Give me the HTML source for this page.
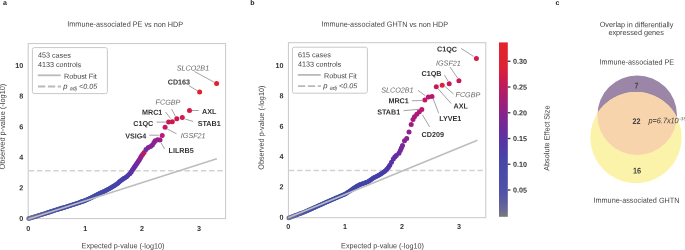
<!DOCTYPE html>
<html><head><meta charset="utf-8"><style>
html,body{margin:0;padding:0;background:#fff;width:685px;height:250px;overflow:hidden;}
svg{display:block;will-change:transform;}
text{font-family:"Liberation Sans", sans-serif;text-rendering:geometricPrecision;}
</style></head><body>
<svg width="685" height="250" viewBox="0 0 685 250" font-family='"Liberation Sans", sans-serif'><rect width="685" height="250" fill="#fff"/><text x="3" y="4.9" font-size="7" font-weight="bold" font-style="normal" fill="#222" text-anchor="start"  transform="rotate(0.2 3 4.9)">a</text><text x="250.3" y="4.9" font-size="7" font-weight="bold" font-style="normal" fill="#222" text-anchor="start"  transform="rotate(0.2 250.3 4.9)">b</text><text x="555.6" y="4.9" font-size="7" font-weight="bold" font-style="normal" fill="#222" text-anchor="start"  transform="rotate(0.2 555.6 4.9)">c</text><rect x="28.2" y="43.6" width="197.4" height="175.0" fill="none" stroke="#c8c8c8" stroke-width="1"/><text x="67.3" y="26.6" font-size="7.6" fill="#444" text-anchor="start" textLength="115.89999999999999" lengthAdjust="spacingAndGlyphs" transform="rotate(0.2 67.3 26.6)">Immune-associated PE vs non HDP</text><text x="23.2" y="220.9" font-size="7.2" font-weight="bold" font-style="normal" fill="#333" text-anchor="end"  transform="rotate(0.2 23.2 220.9)">0</text><text x="23.2" y="190.32000000000002" font-size="7.2" font-weight="bold" font-style="normal" fill="#333" text-anchor="end"  transform="rotate(0.2 23.2 190.32000000000002)">2</text><text x="23.2" y="159.74" font-size="7.2" font-weight="bold" font-style="normal" fill="#333" text-anchor="end"  transform="rotate(0.2 23.2 159.74)">4</text><text x="23.2" y="129.16000000000003" font-size="7.2" font-weight="bold" font-style="normal" fill="#333" text-anchor="end"  transform="rotate(0.2 23.2 129.16000000000003)">6</text><text x="23.2" y="98.58000000000001" font-size="7.2" font-weight="bold" font-style="normal" fill="#333" text-anchor="end"  transform="rotate(0.2 23.2 98.58000000000001)">8</text><text x="23.2" y="68.00000000000003" font-size="7.2" font-weight="bold" font-style="normal" fill="#333" text-anchor="end"  transform="rotate(0.2 23.2 68.00000000000003)">10</text><line x1="28.7" y1="170.7" x2="225.1" y2="170.7" stroke="#d2d2d2" stroke-width="1.4" stroke-dasharray="5.4 2.8"/><circle cx="28.60" cy="218.60" r="2.3" fill="#71749d"/><circle cx="29.44" cy="218.35" r="2.3" fill="#6f729d"/><circle cx="30.28" cy="218.10" r="2.3" fill="#6e719e"/><circle cx="31.12" cy="217.85" r="2.3" fill="#6c6f9e"/><circle cx="31.96" cy="217.60" r="2.3" fill="#6a6e9f"/><circle cx="32.80" cy="217.35" r="2.3" fill="#686c9f"/><circle cx="33.64" cy="217.10" r="2.3" fill="#676ba0"/><circle cx="34.48" cy="216.85" r="2.3" fill="#6569a0"/><circle cx="35.32" cy="216.60" r="2.3" fill="#6368a1"/><circle cx="36.16" cy="216.35" r="2.3" fill="#6166a1"/><circle cx="37.00" cy="216.10" r="2.3" fill="#6065a2"/><circle cx="37.82" cy="215.84" r="2.3" fill="#5e63a2"/><circle cx="38.64" cy="215.57" r="2.3" fill="#5c61a3"/><circle cx="39.45" cy="215.31" r="2.3" fill="#5a60a3"/><circle cx="40.27" cy="215.05" r="2.3" fill="#585ea4"/><circle cx="41.09" cy="214.78" r="2.3" fill="#575da4"/><circle cx="41.91" cy="214.52" r="2.3" fill="#565da4"/><circle cx="42.73" cy="214.25" r="2.3" fill="#555ca5"/><circle cx="43.55" cy="213.99" r="2.3" fill="#545ca5"/><circle cx="44.36" cy="213.73" r="2.3" fill="#535ba5"/><circle cx="45.18" cy="213.46" r="2.3" fill="#525aa5"/><circle cx="46.00" cy="213.20" r="2.3" fill="#525aa5"/><circle cx="46.82" cy="212.94" r="2.3" fill="#5159a6"/><circle cx="47.64" cy="212.67" r="2.3" fill="#5058a6"/><circle cx="48.45" cy="212.41" r="2.3" fill="#4f58a6"/><circle cx="49.27" cy="212.15" r="2.3" fill="#4e57a6"/><circle cx="50.09" cy="211.88" r="2.3" fill="#4d57a6"/><circle cx="50.91" cy="211.62" r="2.3" fill="#4c56a7"/><circle cx="51.73" cy="211.35" r="2.3" fill="#4b55a7"/><circle cx="52.55" cy="211.09" r="2.3" fill="#4a55a7"/><circle cx="53.36" cy="210.83" r="2.3" fill="#4954a7"/><circle cx="54.18" cy="210.56" r="2.3" fill="#4853a8"/><circle cx="55.00" cy="210.30" r="2.3" fill="#4753a8"/><circle cx="55.77" cy="210.06" r="2.3" fill="#4652a8"/><circle cx="56.54" cy="209.82" r="2.3" fill="#4652a8"/><circle cx="57.31" cy="209.58" r="2.3" fill="#4652a8"/><circle cx="58.08" cy="209.35" r="2.3" fill="#4652a8"/><circle cx="58.85" cy="209.11" r="2.3" fill="#4652a8"/><circle cx="59.62" cy="208.87" r="2.3" fill="#4652a8"/><circle cx="60.38" cy="208.63" r="2.3" fill="#4651a8"/><circle cx="61.15" cy="208.39" r="2.3" fill="#4651a8"/><circle cx="61.92" cy="208.15" r="2.3" fill="#4651a8"/><circle cx="62.69" cy="207.92" r="2.3" fill="#4551a8"/><circle cx="63.46" cy="207.68" r="2.3" fill="#4551a8"/><circle cx="64.23" cy="207.44" r="2.3" fill="#4551a8"/><circle cx="65.00" cy="207.20" r="2.3" fill="#4551a8"/><circle cx="65.77" cy="206.95" r="2.3" fill="#4551a8"/><circle cx="66.54" cy="206.71" r="2.3" fill="#4551a8"/><circle cx="67.31" cy="206.46" r="2.3" fill="#4551a8"/><circle cx="68.08" cy="206.22" r="2.3" fill="#4550a8"/><circle cx="68.85" cy="205.97" r="2.3" fill="#4550a8"/><circle cx="69.62" cy="205.72" r="2.3" fill="#4550a8"/><circle cx="70.38" cy="205.48" r="2.3" fill="#4550a8"/><circle cx="71.15" cy="205.23" r="2.3" fill="#4550a8"/><circle cx="71.92" cy="204.98" r="2.3" fill="#4550a8"/><circle cx="72.69" cy="204.74" r="2.3" fill="#4550a8"/><circle cx="73.46" cy="204.49" r="2.3" fill="#4550a8"/><circle cx="74.23" cy="204.25" r="2.3" fill="#4450a8"/><circle cx="75.00" cy="204.00" r="2.3" fill="#4450a8"/><circle cx="75.77" cy="203.74" r="2.3" fill="#444fa8"/><circle cx="76.54" cy="203.48" r="2.3" fill="#444fa8"/><circle cx="77.31" cy="203.22" r="2.3" fill="#444fa8"/><circle cx="78.08" cy="202.95" r="2.3" fill="#444fa8"/><circle cx="78.85" cy="202.69" r="2.3" fill="#444fa8"/><circle cx="79.62" cy="202.43" r="2.3" fill="#444fa8"/><circle cx="80.38" cy="202.17" r="2.3" fill="#444fa8"/><circle cx="81.15" cy="201.91" r="2.3" fill="#444fa8"/><circle cx="81.92" cy="201.65" r="2.3" fill="#444fa8"/><circle cx="82.69" cy="201.38" r="2.3" fill="#444fa8"/><circle cx="83.46" cy="201.12" r="2.3" fill="#444ea8"/><circle cx="84.23" cy="200.86" r="2.3" fill="#444ea8"/><circle cx="85.00" cy="200.60" r="2.3" fill="#434ea8"/><circle cx="85.78" cy="200.24" r="2.3" fill="#434ea8"/><circle cx="86.56" cy="199.89" r="2.3" fill="#434ea8"/><circle cx="87.33" cy="199.53" r="2.3" fill="#434ea8"/><circle cx="88.11" cy="199.18" r="2.3" fill="#434ea8"/><circle cx="88.89" cy="198.82" r="2.3" fill="#434ea8"/><circle cx="89.67" cy="198.47" r="2.3" fill="#434da8"/><circle cx="90.44" cy="198.11" r="2.3" fill="#434da8"/><circle cx="91.22" cy="197.76" r="2.3" fill="#434da8"/><circle cx="92.00" cy="197.40" r="2.3" fill="#434da8"/><circle cx="92.73" cy="197.03" r="2.3" fill="#434da8"/><circle cx="93.45" cy="196.65" r="2.3" fill="#424da8"/><circle cx="94.18" cy="196.28" r="2.3" fill="#424da8"/><circle cx="94.91" cy="195.91" r="2.3" fill="#424ca8"/><circle cx="95.64" cy="195.54" r="2.3" fill="#424ca8"/><circle cx="96.36" cy="195.16" r="2.3" fill="#424ca8"/><circle cx="97.09" cy="194.79" r="2.3" fill="#424ca8"/><circle cx="97.82" cy="194.42" r="2.3" fill="#424ca8"/><circle cx="98.55" cy="194.05" r="2.3" fill="#424ba8"/><circle cx="99.27" cy="193.67" r="2.3" fill="#424ba8"/><circle cx="100.00" cy="193.30" r="2.3" fill="#424ba8"/><circle cx="100.83" cy="192.92" r="2.3" fill="#424ba8"/><circle cx="101.67" cy="192.53" r="2.3" fill="#434aa9"/><circle cx="102.50" cy="192.15" r="2.3" fill="#434aa9"/><circle cx="103.33" cy="191.77" r="2.3" fill="#434aa9"/><circle cx="104.17" cy="191.38" r="2.3" fill="#434aa9"/><circle cx="105.00" cy="191.00" r="2.3" fill="#4349a9"/><circle cx="105.71" cy="190.61" r="2.3" fill="#4349a9"/><circle cx="106.43" cy="190.23" r="2.3" fill="#4349a9"/><circle cx="107.14" cy="189.84" r="2.3" fill="#4349a9"/><circle cx="107.86" cy="189.46" r="2.3" fill="#4348a9"/><circle cx="108.57" cy="189.07" r="2.3" fill="#4348a9"/><circle cx="109.29" cy="188.69" r="2.3" fill="#4348a9"/><circle cx="110.00" cy="188.30" r="2.3" fill="#4348a9"/><circle cx="110.71" cy="187.87" r="2.3" fill="#4447aa"/><circle cx="111.43" cy="187.44" r="2.3" fill="#4447aa"/><circle cx="112.14" cy="187.01" r="2.3" fill="#4447aa"/><circle cx="112.86" cy="186.59" r="2.3" fill="#4446aa"/><circle cx="113.57" cy="186.16" r="2.3" fill="#4446aa"/><circle cx="114.29" cy="185.73" r="2.3" fill="#4446aa"/><circle cx="115.00" cy="185.30" r="2.3" fill="#4446aa"/><circle cx="115.75" cy="184.80" r="2.3" fill="#4545aa"/><circle cx="116.50" cy="184.30" r="2.3" fill="#4545aa"/><circle cx="117.25" cy="183.80" r="2.3" fill="#4545aa"/><circle cx="118.00" cy="183.30" r="2.3" fill="#4644aa"/><circle cx="118.67" cy="182.60" r="2.3" fill="#4644aa"/><circle cx="119.33" cy="181.90" r="2.3" fill="#4743aa"/><circle cx="120.00" cy="181.20" r="2.3" fill="#4743aa"/><circle cx="120.67" cy="180.73" r="2.3" fill="#4842aa"/><circle cx="121.33" cy="180.27" r="2.3" fill="#4842aa"/><circle cx="122.00" cy="179.80" r="2.3" fill="#4842aa"/><circle cx="122.67" cy="179.33" r="2.3" fill="#4941aa"/><circle cx="123.33" cy="178.87" r="2.3" fill="#4940aa"/><circle cx="124.00" cy="178.40" r="2.3" fill="#4a3fa9"/><circle cx="124.75" cy="177.93" r="2.3" fill="#4a3fa9"/><circle cx="125.50" cy="177.45" r="2.3" fill="#4b3ea9"/><circle cx="126.25" cy="176.97" r="2.3" fill="#4c3da9"/><circle cx="127.00" cy="176.50" r="2.3" fill="#4c3ca9"/><circle cx="127.60" cy="175.85" r="2.3" fill="#4d3ba8"/><circle cx="128.20" cy="175.20" r="2.3" fill="#4e3aa8"/><circle cx="129.80" cy="173.80" r="2.5" fill="#5238a8"/><circle cx="131.20" cy="171.90" r="2.5" fill="#5934a7"/><circle cx="132.40" cy="170.00" r="2.5" fill="#6030a6"/><circle cx="133.60" cy="168.30" r="2.5" fill="#632ea5"/><circle cx="134.60" cy="166.80" r="2.5" fill="#662ca5"/><circle cx="135.50" cy="165.50" r="2.5" fill="#692ba4"/><circle cx="136.50" cy="164.00" r="2.5" fill="#6e29a2"/><circle cx="137.50" cy="162.60" r="2.5" fill="#75289e"/><circle cx="138.50" cy="161.10" r="2.5" fill="#7b279b"/><circle cx="139.40" cy="159.70" r="2.5" fill="#822697"/><circle cx="140.40" cy="158.00" r="2.5" fill="#8d2390"/><circle cx="141.30" cy="156.30" r="2.5" fill="#982089"/><circle cx="142.60" cy="154.60" r="2.5" fill="#96218b"/><circle cx="144.10" cy="152.40" r="2.5" fill="#c41858"/><circle cx="146.00" cy="149.60" r="2.5" fill="#6a30a0"/><circle cx="148.30" cy="147.60" r="2.5" fill="#7e2698"/><circle cx="150.50" cy="146.40" r="2.5" fill="#8a2494"/><circle cx="152.40" cy="145.00" r="2.5" fill="#7e2698"/><circle cx="154.00" cy="142.60" r="2.5" fill="#8e2290"/><circle cx="155.20" cy="140.80" r="2.5" fill="#8a2494"/><circle cx="157.60" cy="139.80" r="2.5" fill="#962088"/><circle cx="160.00" cy="140.00" r="2.5" fill="#9a1e86"/><circle cx="162.20" cy="135.60" r="2.5" fill="#c0187a"/><circle cx="165.10" cy="127.30" r="2.5" fill="#c41868"/><circle cx="168.60" cy="122.10" r="2.5" fill="#cc1850"/><circle cx="172.30" cy="121.80" r="2.5" fill="#cc1850"/><circle cx="176.80" cy="118.70" r="2.5" fill="#d01850"/><circle cx="182.30" cy="117.50" r="2.5" fill="#d41850"/><circle cx="189.50" cy="110.50" r="2.5" fill="#d81848"/><circle cx="199.60" cy="92.00" r="2.5" fill="#e4202a"/><circle cx="216.60" cy="83.60" r="2.5" fill="#e4202a"/><line x1="28.3" y1="219.1" x2="216.8" y2="158.7" stroke="#bdbdbd" stroke-width="1.6" /><line x1="194.5" y1="71.5" x2="214.5" y2="82.4" stroke="#999999" stroke-width="0.9" /><text x="176.8" y="70.4" font-size="7.2" font-weight="normal" font-style="italic" fill="#666" text-anchor="start"  transform="rotate(0.2 176.8 70.4)">SLCO2B1</text><line x1="188.8" y1="85.6" x2="197.7" y2="91" stroke="#999999" stroke-width="0.9" /><text x="167.7" y="84.4" font-size="7.2" font-weight="bold" font-style="normal" fill="#333" text-anchor="start"  transform="rotate(0.2 167.7 84.4)">CD163</text><line x1="171.6" y1="109" x2="175.6" y2="116.6" stroke="#999999" stroke-width="0.9" /><text x="155.6" y="104.6" font-size="7.2" font-weight="normal" font-style="italic" fill="#666" text-anchor="start"  transform="rotate(0.2 155.6 104.6)">FCGBP</text><line x1="191.8" y1="110.5" x2="198.8" y2="110.5" stroke="#999999" stroke-width="0.9" /><text x="202" y="113.9" font-size="7.2" font-weight="bold" font-style="normal" fill="#333" text-anchor="start"  transform="rotate(0.2 202 113.9)">AXL</text><line x1="165.5" y1="111.9" x2="170.6" y2="118.5" stroke="#999999" stroke-width="0.9" /><text x="142" y="114.7" font-size="7.2" font-weight="bold" font-style="normal" fill="#333" text-anchor="start"  transform="rotate(0.2 142 114.7)">MRC1</text><line x1="185.2" y1="119" x2="193.2" y2="121.5" stroke="#999999" stroke-width="0.9" /><text x="197.7" y="125.9" font-size="7.2" font-weight="bold" font-style="normal" fill="#333" text-anchor="start"  transform="rotate(0.2 197.7 125.9)">STAB1</text><line x1="156.7" y1="122.1" x2="166.4" y2="122.1" stroke="#999999" stroke-width="0.9" /><text x="133.2" y="125.9" font-size="7.2" font-weight="bold" font-style="normal" fill="#333" text-anchor="start"  transform="rotate(0.2 133.2 125.9)">C1QC</text><line x1="167.2" y1="129" x2="176.5" y2="133.8" stroke="#999999" stroke-width="0.9" /><text x="180.8" y="138.1" font-size="7.2" font-weight="normal" font-style="italic" fill="#666" text-anchor="start"  transform="rotate(0.2 180.8 138.1)">IGSF21</text><line x1="149.2" y1="135.2" x2="158.8" y2="135.2" stroke="#999999" stroke-width="0.9" /><text x="125.2" y="138.4" font-size="7.2" font-weight="bold" font-style="normal" fill="#333" text-anchor="start"  transform="rotate(0.2 125.2 138.4)">VSIG4</text><line x1="161.2" y1="143" x2="164.6" y2="149" stroke="#999999" stroke-width="0.9" /><text x="168.5" y="153.0" font-size="7.2" font-weight="bold" font-style="normal" fill="#333" text-anchor="start"  transform="rotate(0.2 168.5 153.0)">LILRB5</text><rect x="32.4" y="47.6" width="75" height="46" rx="2" ry="2" fill="#fff" stroke="#c8c8c8" stroke-width="1"/><text x="38.0" y="57.6" font-size="7.2" font-weight="normal" font-style="normal" fill="#444" text-anchor="start"  transform="rotate(0.2 38.0 57.6)">453 cases</text><text x="38.0" y="67.0" font-size="7.2" font-weight="normal" font-style="normal" fill="#444" text-anchor="start"  transform="rotate(0.2 38.0 67.0)">4133 controls</text><line x1="37.8" y1="75.3" x2="60.7" y2="75.3" stroke="#bababa" stroke-width="1.8" /><text x="64.0" y="78.7" font-size="7.2" font-weight="normal" font-style="normal" fill="#444" text-anchor="start"  transform="rotate(0.2 64.0 78.7)">Robust Fit</text><line x1="38.0" y1="86.5" x2="60.9" y2="86.5" stroke="#bababa" stroke-width="1.8" stroke-dasharray="7.3 2.6"/><text x="63.2" y="88.7" font-size="7.6" font-style="italic" fill="#444" transform="rotate(0.2 63.2 88.7)">p</text><text x="69.8" y="90.2" font-size="5.4" font-style="italic" fill="#444" transform="rotate(0.2 69.8 90.2)">adj</text><text x="79.0" y="88.7" font-size="7.2" font-style="italic" fill="#444" transform="rotate(0.2 79.0 88.7)">&lt;0.05</text><text x="28.3" y="230.9" font-size="7.2" font-weight="bold" font-style="normal" fill="#333" text-anchor="middle"  transform="rotate(0.2 28.3 230.9)">0</text><text x="85.2" y="230.9" font-size="7.2" font-weight="bold" font-style="normal" fill="#333" text-anchor="middle"  transform="rotate(0.2 85.2 230.9)">1</text><text x="142.1" y="230.9" font-size="7.2" font-weight="bold" font-style="normal" fill="#333" text-anchor="middle"  transform="rotate(0.2 142.1 230.9)">2</text><text x="199.0" y="230.9" font-size="7.2" font-weight="bold" font-style="normal" fill="#333" text-anchor="middle"  transform="rotate(0.2 199.0 230.9)">3</text><text x="81.6" y="248.2" font-size="7.6" fill="#444" text-anchor="start" textLength="82.8" lengthAdjust="spacingAndGlyphs" transform="rotate(0.2 81.6 248.2)">Expected p-value (-log10)</text><text x="0" y="0" font-size="7.6" fill="#444" text-anchor="middle" textLength="85.8" lengthAdjust="spacingAndGlyphs" transform="translate(4.9,126.6) rotate(-89.8)">Observed p-value (-log10)</text><rect x="288.4" y="42.7" width="197.40000000000003" height="175.0" fill="none" stroke="#c8c8c8" stroke-width="1"/><text x="321.5" y="26.6" font-size="7.6" fill="#444" text-anchor="start" textLength="126.6" lengthAdjust="spacingAndGlyphs" transform="rotate(0.2 321.5 26.6)">Immune-associated GHTN vs non HDP</text><text x="283.4" y="219.7" font-size="7.2" font-weight="bold" font-style="normal" fill="#333" text-anchor="end"  transform="rotate(0.2 283.4 219.7)">0</text><text x="283.4" y="189.35999999999999" font-size="7.2" font-weight="bold" font-style="normal" fill="#333" text-anchor="end"  transform="rotate(0.2 283.4 189.35999999999999)">2</text><text x="283.4" y="159.01999999999998" font-size="7.2" font-weight="bold" font-style="normal" fill="#333" text-anchor="end"  transform="rotate(0.2 283.4 159.01999999999998)">4</text><text x="283.4" y="128.68" font-size="7.2" font-weight="bold" font-style="normal" fill="#333" text-anchor="end"  transform="rotate(0.2 283.4 128.68)">6</text><text x="283.4" y="98.33999999999999" font-size="7.2" font-weight="bold" font-style="normal" fill="#333" text-anchor="end"  transform="rotate(0.2 283.4 98.33999999999999)">8</text><text x="283.4" y="68.0" font-size="7.2" font-weight="bold" font-style="normal" fill="#333" text-anchor="end"  transform="rotate(0.2 283.4 68.0)">10</text><line x1="288.9" y1="170.5" x2="485.3" y2="170.5" stroke="#d2d2d2" stroke-width="1.4" stroke-dasharray="5.4 2.8"/><circle cx="288.60" cy="218.00" r="2.2" fill="#74769c"/><circle cx="289.42" cy="217.69" r="2.2" fill="#72749d"/><circle cx="290.24" cy="217.38" r="2.2" fill="#70729d"/><circle cx="291.07" cy="217.07" r="2.2" fill="#6d709e"/><circle cx="291.89" cy="216.76" r="2.2" fill="#6b6f9e"/><circle cx="292.71" cy="216.44" r="2.2" fill="#696d9f"/><circle cx="293.53" cy="216.13" r="2.2" fill="#676ba0"/><circle cx="294.36" cy="215.82" r="2.2" fill="#6569a0"/><circle cx="295.18" cy="215.51" r="2.2" fill="#6367a1"/><circle cx="296.00" cy="215.20" r="2.2" fill="#6065a2"/><circle cx="296.75" cy="214.92" r="2.2" fill="#5e63a2"/><circle cx="297.50" cy="214.63" r="2.2" fill="#5c62a3"/><circle cx="298.25" cy="214.35" r="2.2" fill="#5a60a3"/><circle cx="299.00" cy="214.07" r="2.2" fill="#585ea4"/><circle cx="299.75" cy="213.78" r="2.2" fill="#575da4"/><circle cx="300.50" cy="213.50" r="2.2" fill="#565da4"/><circle cx="301.25" cy="213.22" r="2.2" fill="#555ca5"/><circle cx="302.00" cy="212.93" r="2.2" fill="#545ba5"/><circle cx="302.75" cy="212.65" r="2.2" fill="#535ba5"/><circle cx="303.50" cy="212.37" r="2.2" fill="#525aa5"/><circle cx="304.25" cy="212.08" r="2.2" fill="#5159a6"/><circle cx="305.00" cy="211.80" r="2.2" fill="#5059a6"/><circle cx="305.77" cy="211.45" r="2.2" fill="#4f58a6"/><circle cx="306.54" cy="211.11" r="2.2" fill="#4e57a6"/><circle cx="307.31" cy="210.76" r="2.2" fill="#4c56a7"/><circle cx="308.08" cy="210.42" r="2.2" fill="#4b55a7"/><circle cx="308.85" cy="210.07" r="2.2" fill="#4a55a7"/><circle cx="309.62" cy="209.72" r="2.2" fill="#4954a7"/><circle cx="310.38" cy="209.38" r="2.2" fill="#4753a8"/><circle cx="311.15" cy="209.03" r="2.2" fill="#4652a8"/><circle cx="311.92" cy="208.68" r="2.2" fill="#4652a8"/><circle cx="312.69" cy="208.34" r="2.2" fill="#4652a8"/><circle cx="313.46" cy="207.99" r="2.2" fill="#4651a8"/><circle cx="314.23" cy="207.65" r="2.2" fill="#4551a8"/><circle cx="315.00" cy="207.30" r="2.2" fill="#4551a8"/><circle cx="315.77" cy="206.95" r="2.2" fill="#4551a8"/><circle cx="316.54" cy="206.61" r="2.2" fill="#4551a8"/><circle cx="317.31" cy="206.26" r="2.2" fill="#4550a8"/><circle cx="318.08" cy="205.92" r="2.2" fill="#4550a8"/><circle cx="318.85" cy="205.57" r="2.2" fill="#4550a8"/><circle cx="319.62" cy="205.22" r="2.2" fill="#4450a8"/><circle cx="320.38" cy="204.88" r="2.2" fill="#4450a8"/><circle cx="321.15" cy="204.53" r="2.2" fill="#444fa8"/><circle cx="321.92" cy="204.18" r="2.2" fill="#444fa8"/><circle cx="322.69" cy="203.84" r="2.2" fill="#444fa8"/><circle cx="323.46" cy="203.49" r="2.2" fill="#444fa8"/><circle cx="324.23" cy="203.15" r="2.2" fill="#434fa8"/><circle cx="325.00" cy="202.80" r="2.2" fill="#434ea8"/><circle cx="325.77" cy="202.46" r="2.2" fill="#434ea8"/><circle cx="326.54" cy="202.12" r="2.2" fill="#434ea8"/><circle cx="327.31" cy="201.78" r="2.2" fill="#434ea8"/><circle cx="328.08" cy="201.45" r="2.2" fill="#434ea8"/><circle cx="328.85" cy="201.11" r="2.2" fill="#434da8"/><circle cx="329.62" cy="200.77" r="2.2" fill="#424da8"/><circle cx="330.38" cy="200.43" r="2.2" fill="#424da8"/><circle cx="331.15" cy="200.09" r="2.2" fill="#424da8"/><circle cx="331.92" cy="199.75" r="2.2" fill="#424da8"/><circle cx="332.69" cy="199.42" r="2.2" fill="#424da8"/><circle cx="333.46" cy="199.08" r="2.2" fill="#424ca8"/><circle cx="334.23" cy="198.74" r="2.2" fill="#424ca8"/><circle cx="335.00" cy="198.40" r="2.2" fill="#414ca8"/><circle cx="335.77" cy="198.07" r="2.2" fill="#414ca8"/><circle cx="336.54" cy="197.74" r="2.2" fill="#414ca8"/><circle cx="337.31" cy="197.41" r="2.2" fill="#414ba8"/><circle cx="338.08" cy="197.08" r="2.2" fill="#414ba8"/><circle cx="338.85" cy="196.75" r="2.2" fill="#414ba8"/><circle cx="339.62" cy="196.42" r="2.2" fill="#414ba8"/><circle cx="340.38" cy="196.08" r="2.2" fill="#404ba8"/><circle cx="341.15" cy="195.75" r="2.2" fill="#404aa8"/><circle cx="341.92" cy="195.42" r="2.2" fill="#404aa8"/><circle cx="342.69" cy="195.09" r="2.2" fill="#404aa8"/><circle cx="343.46" cy="194.76" r="2.2" fill="#404aa8"/><circle cx="344.23" cy="194.43" r="2.2" fill="#404aa8"/><circle cx="345.00" cy="194.10" r="2.2" fill="#404aa8"/><circle cx="345.70" cy="193.65" r="2.2" fill="#4049a8"/><circle cx="346.40" cy="193.20" r="2.2" fill="#4049a8"/><circle cx="347.10" cy="192.75" r="2.2" fill="#4049a8"/><circle cx="347.80" cy="192.30" r="2.2" fill="#4149a8"/><circle cx="348.50" cy="191.85" r="2.2" fill="#4148a8"/><circle cx="349.20" cy="191.40" r="2.2" fill="#4148a8"/><circle cx="349.90" cy="190.95" r="2.2" fill="#4148a8"/><circle cx="350.60" cy="190.50" r="2.2" fill="#4148a8"/><circle cx="351.30" cy="190.05" r="2.2" fill="#4147a9"/><circle cx="352.00" cy="189.60" r="2.3" fill="#4147a9"/><circle cx="352.67" cy="189.13" r="2.3" fill="#4147a9"/><circle cx="353.33" cy="188.67" r="2.3" fill="#4147a9"/><circle cx="354.00" cy="188.20" r="2.3" fill="#4146a9"/><circle cx="354.67" cy="187.73" r="2.3" fill="#4246a9"/><circle cx="355.33" cy="187.27" r="2.3" fill="#4246a9"/><circle cx="356.00" cy="186.80" r="2.3" fill="#4246a9"/><circle cx="356.80" cy="186.36" r="2.3" fill="#4245a9"/><circle cx="357.60" cy="185.92" r="2.3" fill="#4245a9"/><circle cx="358.40" cy="185.48" r="2.3" fill="#4245a9"/><circle cx="359.20" cy="185.04" r="2.3" fill="#4245a9"/><circle cx="360.00" cy="184.60" r="2.3" fill="#4245a9"/><circle cx="360.80" cy="184.34" r="2.3" fill="#4244a9"/><circle cx="361.60" cy="184.08" r="2.3" fill="#4244a9"/><circle cx="362.40" cy="183.82" r="2.3" fill="#4244a9"/><circle cx="363.20" cy="183.56" r="2.3" fill="#4244a9"/><circle cx="364.00" cy="183.30" r="2.3" fill="#4244a9"/><circle cx="364.80" cy="182.98" r="2.3" fill="#4344a9"/><circle cx="365.60" cy="182.66" r="2.3" fill="#4344a9"/><circle cx="366.40" cy="182.34" r="2.3" fill="#4343a9"/><circle cx="367.20" cy="182.02" r="2.3" fill="#4343a9"/><circle cx="368.00" cy="181.70" r="2.3" fill="#4343a9"/><circle cx="368.75" cy="181.22" r="2.3" fill="#4343a9"/><circle cx="369.50" cy="180.75" r="2.3" fill="#4342aa"/><circle cx="370.25" cy="180.28" r="2.3" fill="#4342aa"/><circle cx="371.00" cy="179.80" r="2.3" fill="#4342aa"/><circle cx="371.67" cy="179.27" r="2.3" fill="#4342aa"/><circle cx="372.33" cy="178.73" r="2.3" fill="#4341aa"/><circle cx="373.00" cy="178.20" r="2.3" fill="#4441aa"/><circle cx="373.75" cy="177.82" r="2.3" fill="#4441aa"/><circle cx="374.50" cy="177.45" r="2.3" fill="#4441aa"/><circle cx="375.25" cy="177.07" r="2.3" fill="#4441aa"/><circle cx="376.00" cy="176.70" r="2.3" fill="#4440aa"/><circle cx="376.80" cy="176.28" r="2.3" fill="#4440aa"/><circle cx="377.60" cy="175.86" r="2.3" fill="#4440aa"/><circle cx="378.40" cy="175.44" r="2.3" fill="#453faa"/><circle cx="379.20" cy="175.02" r="2.3" fill="#453faa"/><circle cx="380.00" cy="174.60" r="2.3" fill="#453faa"/><circle cx="380.75" cy="174.10" r="2.3" fill="#463ea9"/><circle cx="381.50" cy="173.60" r="2.3" fill="#463ea9"/><circle cx="382.25" cy="173.10" r="2.3" fill="#473da9"/><circle cx="383.00" cy="172.60" r="2.3" fill="#473da9"/><circle cx="383.83" cy="172.00" r="2.3" fill="#483ca9"/><circle cx="384.67" cy="171.40" r="2.3" fill="#493ba8"/><circle cx="385.50" cy="170.80" r="2.3" fill="#493ba8"/><circle cx="386.60" cy="169.60" r="2.5" fill="#4b39a8"/><circle cx="388.30" cy="167.40" r="2.5" fill="#4f35a8"/><circle cx="389.80" cy="165.20" r="2.5" fill="#5430a8"/><circle cx="391.50" cy="162.20" r="2.5" fill="#5a30a6"/><circle cx="393.30" cy="158.90" r="2.5" fill="#6030a4"/><circle cx="394.80" cy="157.00" r="2.5" fill="#632ea3"/><circle cx="396.30" cy="155.40" r="2.5" fill="#662ca2"/><circle cx="398.90" cy="153.30" r="2.5" fill="#692aa0"/><circle cx="400.30" cy="150.50" r="2.5" fill="#70299d"/><circle cx="401.40" cy="148.00" r="2.5" fill="#75299a"/><circle cx="402.50" cy="145.50" r="2.5" fill="#7b2897"/><circle cx="404.50" cy="140.70" r="2.5" fill="#862490"/><circle cx="406.70" cy="138.40" r="2.5" fill="#882390"/><circle cx="409.00" cy="132.00" r="2.5" fill="#8f218c"/><circle cx="411.20" cy="124.60" r="2.5" fill="#a01a80"/><circle cx="413.00" cy="119.60" r="2.5" fill="#a31d80"/><circle cx="414.50" cy="116.80" r="2.5" fill="#a81b7e"/><circle cx="416.80" cy="114.20" r="2.5" fill="#ac197c"/><circle cx="419.30" cy="111.80" r="2.5" fill="#b0187a"/><circle cx="421.80" cy="109.60" r="2.5" fill="#b81870"/><circle cx="424.90" cy="100.00" r="2.5" fill="#c01868"/><circle cx="428.40" cy="96.90" r="2.5" fill="#b81870"/><circle cx="432.00" cy="96.60" r="2.5" fill="#b81870"/><circle cx="436.30" cy="86.80" r="2.5" fill="#c8185a"/><circle cx="442.20" cy="85.20" r="2.5" fill="#e0203a"/><circle cx="449.20" cy="83.70" r="2.5" fill="#c8185a"/><circle cx="458.90" cy="80.80" r="2.5" fill="#c8185a"/><circle cx="476.40" cy="58.40" r="2.5" fill="#d41a48"/><line x1="288.2" y1="217.7" x2="477.4" y2="140.25" stroke="#bdbdbd" stroke-width="1.6" /><line x1="461" y1="48.4" x2="473.6" y2="56.4" stroke="#999999" stroke-width="0.9" /><text x="437" y="51.6" font-size="7.2" font-weight="bold" font-style="normal" fill="#333" text-anchor="start"  transform="rotate(0.2 437 51.6)">C1QC</text><line x1="450" y1="67" x2="457.6" y2="78" stroke="#999999" stroke-width="0.9" /><text x="436" y="65.6" font-size="7.2" font-weight="normal" font-style="italic" fill="#666" text-anchor="start"  transform="rotate(0.2 436 65.6)">IGSF21</text><line x1="444.4" y1="75" x2="448" y2="81" stroke="#999999" stroke-width="0.9" /><text x="421.6" y="76" font-size="7.2" font-weight="bold" font-style="normal" fill="#333" text-anchor="start"  transform="rotate(0.2 421.6 76)">C1QB</text><line x1="418" y1="90.4" x2="425.2" y2="95.7" stroke="#999999" stroke-width="0.9" /><text x="381.2" y="92.5" font-size="7.2" font-weight="normal" font-style="italic" fill="#666" text-anchor="start"  transform="rotate(0.2 381.2 92.5)">SLCO2B1</text><line x1="444" y1="85.6" x2="453.6" y2="94" stroke="#999999" stroke-width="0.9" /><text x="455.5" y="97.1" font-size="7.2" font-weight="normal" font-style="italic" fill="#666" text-anchor="start"  transform="rotate(0.2 455.5 97.1)">FCGBP</text><line x1="411.9" y1="100.8" x2="422" y2="100.5" stroke="#999999" stroke-width="0.9" /><text x="388.4" y="103.2" font-size="7.2" font-weight="bold" font-style="normal" fill="#333" text-anchor="start"  transform="rotate(0.2 388.4 103.2)">MRC1</text><line x1="438" y1="88.7" x2="451.2" y2="103.6" stroke="#999999" stroke-width="0.9" /><text x="453.6" y="108.4" font-size="7.2" font-weight="bold" font-style="normal" fill="#333" text-anchor="start"  transform="rotate(0.2 453.6 108.4)">AXL</text><line x1="403.6" y1="110.7" x2="418.8" y2="109.3" stroke="#999999" stroke-width="0.9" /><text x="377.2" y="114.4" font-size="7.2" font-weight="bold" font-style="normal" fill="#333" text-anchor="start"  transform="rotate(0.2 377.2 114.4)">STAB1</text><line x1="433.2" y1="98.8" x2="438.7" y2="113.2" stroke="#999999" stroke-width="0.9" /><text x="439.2" y="120.9" font-size="7.2" font-weight="bold" font-style="normal" fill="#333" text-anchor="start"  transform="rotate(0.2 439.2 120.9)">LYVE1</text><line x1="422.4" y1="114.8" x2="429.6" y2="126.8" stroke="#999999" stroke-width="0.9" /><text x="421.6" y="136.9" font-size="7.2" font-weight="bold" font-style="normal" fill="#333" text-anchor="start"  transform="rotate(0.2 421.6 136.9)">CD209</text><rect x="292.4" y="47.2" width="75" height="46" rx="2" ry="2" fill="#fff" stroke="#c8c8c8" stroke-width="1"/><text x="298.0" y="57.2" font-size="7.2" font-weight="normal" font-style="normal" fill="#444" text-anchor="start"  transform="rotate(0.2 298.0 57.2)">615 cases</text><text x="298.0" y="66.6" font-size="7.2" font-weight="normal" font-style="normal" fill="#444" text-anchor="start"  transform="rotate(0.2 298.0 66.6)">4133 controls</text><line x1="297.79999999999995" y1="74.9" x2="320.7" y2="74.9" stroke="#bababa" stroke-width="1.8" /><text x="324.0" y="78.30000000000001" font-size="7.2" font-weight="normal" font-style="normal" fill="#444" text-anchor="start"  transform="rotate(0.2 324.0 78.30000000000001)">Robust Fit</text><line x1="298.0" y1="86.1" x2="320.9" y2="86.1" stroke="#bababa" stroke-width="1.8" stroke-dasharray="7.3 2.6"/><text x="323.2" y="88.30000000000001" font-size="7.6" font-style="italic" fill="#444" transform="rotate(0.2 323.2 88.30000000000001)">p</text><text x="329.79999999999995" y="89.80000000000001" font-size="5.4" font-style="italic" fill="#444" transform="rotate(0.2 329.79999999999995 89.80000000000001)">adj</text><text x="339.0" y="88.30000000000001" font-size="7.2" font-style="italic" fill="#444" transform="rotate(0.2 339.0 88.30000000000001)">&lt;0.05</text><text x="288.2" y="229.1" font-size="7.2" font-weight="bold" font-style="normal" fill="#333" text-anchor="middle"  transform="rotate(0.2 288.2 229.1)">0</text><text x="345.09999999999997" y="229.1" font-size="7.2" font-weight="bold" font-style="normal" fill="#333" text-anchor="middle"  transform="rotate(0.2 345.09999999999997 229.1)">1</text><text x="402.0" y="229.1" font-size="7.2" font-weight="bold" font-style="normal" fill="#333" text-anchor="middle"  transform="rotate(0.2 402.0 229.1)">2</text><text x="458.9" y="229.1" font-size="7.2" font-weight="bold" font-style="normal" fill="#333" text-anchor="middle"  transform="rotate(0.2 458.9 229.1)">3</text><text x="341.1" y="248.2" font-size="7.6" fill="#444" text-anchor="start" textLength="82.8" lengthAdjust="spacingAndGlyphs" transform="rotate(0.2 341.1 248.2)">Expected p-value (-log10)</text><text x="0" y="0" font-size="7.6" fill="#444" text-anchor="middle" textLength="84.1" lengthAdjust="spacingAndGlyphs" transform="translate(263.9,127.7) rotate(-89.8)">Observed p-value (-log10)</text><defs><linearGradient id="cb" x1="0" y1="1" x2="0" y2="0"><stop offset="-0.0011" stop-color="#7a7a7a"/><stop offset="0.0333" stop-color="#6c6c92"/><stop offset="0.0791" stop-color="#5e5e9e"/><stop offset="0.1422" stop-color="#5052a6"/><stop offset="0.2397" stop-color="#484ca8"/><stop offset="0.3372" stop-color="#4844a8"/><stop offset="0.4232" stop-color="#5636a4"/><stop offset="0.4977" stop-color="#6a2c9c"/><stop offset="0.5837" stop-color="#84268c"/><stop offset="0.6411" stop-color="#9a207c"/><stop offset="0.7099" stop-color="#b01c68"/><stop offset="0.7844" stop-color="#c81c50"/><stop offset="0.8532" stop-color="#dc2236"/><stop offset="1.0023" stop-color="#e3252b"/></linearGradient></defs><rect x="499" y="42.4" width="8.8" height="174.4" fill="url(#cb)"/><line x1="507.8" y1="190.0" x2="510.4" y2="190.0" stroke="#333" stroke-width="1.3" /><text x="513" y="192.6" font-size="7.2" font-weight="bold" font-style="normal" fill="#333" text-anchor="start"  transform="rotate(0.2 513 192.6)">0.05</text><line x1="507.8" y1="164.25" x2="510.4" y2="164.25" stroke="#333" stroke-width="1.3" /><text x="513" y="166.85" font-size="7.2" font-weight="bold" font-style="normal" fill="#333" text-anchor="start"  transform="rotate(0.2 513 166.85)">0.10</text><line x1="507.8" y1="138.5" x2="510.4" y2="138.5" stroke="#333" stroke-width="1.3" /><text x="513" y="141.1" font-size="7.2" font-weight="bold" font-style="normal" fill="#333" text-anchor="start"  transform="rotate(0.2 513 141.1)">0.15</text><line x1="507.8" y1="112.75" x2="510.4" y2="112.75" stroke="#333" stroke-width="1.3" /><text x="513" y="115.35" font-size="7.2" font-weight="bold" font-style="normal" fill="#333" text-anchor="start"  transform="rotate(0.2 513 115.35)">0.20</text><line x1="507.8" y1="87.0" x2="510.4" y2="87.0" stroke="#333" stroke-width="1.3" /><text x="513" y="89.6" font-size="7.2" font-weight="bold" font-style="normal" fill="#333" text-anchor="start"  transform="rotate(0.2 513 89.6)">0.25</text><line x1="507.8" y1="61.25" x2="510.4" y2="61.25" stroke="#333" stroke-width="1.3" /><text x="513" y="63.85" font-size="7.2" font-weight="bold" font-style="normal" fill="#333" text-anchor="start"  transform="rotate(0.2 513 63.85)">0.30</text><text x="0" y="0" font-size="7.6" fill="#444" text-anchor="middle" textLength="65.3" lengthAdjust="spacingAndGlyphs" transform="translate(549.4,138.2) rotate(-89.8)">Absolute Effect Size</text><text x="636.5" y="27.2" font-size="7.6" fill="#444" text-anchor="middle" textLength="73.6" lengthAdjust="spacingAndGlyphs" transform="rotate(0.2 636.5 27.2)">Overlap in differentially</text><text x="636.1" y="35.0" font-size="7.6" fill="#444" text-anchor="middle" textLength="55.4" lengthAdjust="spacingAndGlyphs" transform="rotate(0.2 636.1 35.0)">expressed genes</text><text x="636.75" y="64.6" font-size="7.6" fill="#444" text-anchor="middle" textLength="74.7" lengthAdjust="spacingAndGlyphs" transform="rotate(0.2 636.75 64.6)">Immune-associated PE</text><circle cx="637.2" cy="115.2" r="39.8" fill="#9c86a8"/><circle cx="636" cy="137.6" r="45.6" fill="#fcf3ab"/><clipPath id="cy"><circle cx="636" cy="137.6" r="45.6"/></clipPath><circle cx="637.2" cy="115.2" r="39.8" fill="#f8d4ac" clip-path="url(#cy)"/><text x="636.6" y="88.6" font-size="8.2" font-weight="bold" fill="#444" text-anchor="middle" textLength="4.0" lengthAdjust="spacingAndGlyphs" transform="rotate(0.2 636.6 88.6)">7</text><text x="636.5" y="124" font-size="8.2" font-weight="bold" fill="#444" text-anchor="middle" textLength="8.0" lengthAdjust="spacingAndGlyphs" transform="rotate(0.2 636.5 124)">22</text><text x="637.0" y="173.6" font-size="8.2" font-weight="bold" fill="#444" text-anchor="middle" textLength="8.2" lengthAdjust="spacingAndGlyphs" transform="rotate(0.2 637.0 173.6)">16</text><text x="648.6" y="123.2" font-size="8" font-style="italic" fill="#3a3a3a" textLength="30.0" lengthAdjust="spacingAndGlyphs" transform="rotate(0.2 648.6 123.2)">p=6.7x10</text><text x="679.3" y="120.3" font-size="4.6" font-style="italic" fill="#666" transform="rotate(0.2 679.3 120.3)">-38</text><text x="636.5" y="202.8" font-size="7.6" fill="#444" text-anchor="middle" textLength="86.0" lengthAdjust="spacingAndGlyphs" transform="rotate(0.2 636.5 202.8)">Immune-associated GHTN</text></svg>
</body></html>
